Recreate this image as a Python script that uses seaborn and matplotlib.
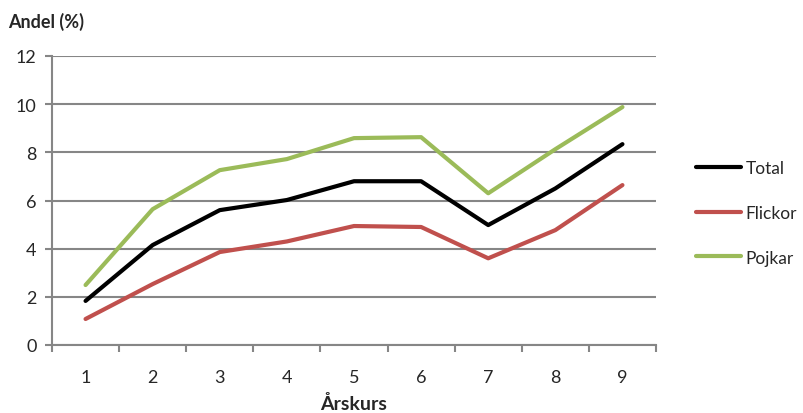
import matplotlib
matplotlib.use("Agg")
import matplotlib.pyplot as plt
import numpy as np
import pandas as pd
import seaborn as sns

# data
arskurs = [1, 2, 3, 4, 5, 6, 7, 8, 9]
total = [1.83, 4.15, 5.6, 6.02, 6.8, 6.8, 4.98, 6.5, 8.34]
flickor = [1.08, 2.53, 3.86, 4.3, 4.94, 4.9, 3.6, 4.77, 6.64]
pojkar = [2.49, 5.64, 7.26, 7.72, 8.59, 8.63, 6.3, 8.13, 9.88]
series = ["Total", "Flickor", "Pojkar"]
colors = ["#000000", "#C0504D", "#9BBB59"]
y_ticks = [0, 2, 4, 6, 8, 10, 12]

df = pd.DataFrame({
    "Årskurs": arskurs * 3,
    "Andel": total + flickor + pojkar,
    "Grupp": [s for s in series for _ in arskurs],
})

sns.set_theme(style="white")
plt.rcParams["font.family"] = ["Lato", "DejaVu Sans"]

fig = plt.figure(figsize=(8.04, 4.14), dpi=100)
ax = fig.add_axes([52 / 804, 68 / 414, 604 / 804, 289 / 414])

sns.lineplot(data=df, x="Årskurs", y="Andel", hue="Grupp", hue_order=series,
             palette=colors, linewidth=3.0, ax=ax, legend=True)

ax.set_xlim(0.5, 9.5)
ax.set_ylim(0, 12)
ax.set_yticks(y_ticks)
ax.set_xticks(arskurs)
ax.set_xticks(np.arange(0.5, 10.0, 1.0), minor=True)
ax.yaxis.grid(True, color="#868686", linewidth=1.5)
ax.set_axisbelow(True)
for side in ["top", "right"]:
    ax.spines[side].set_visible(False)
for side in ["left", "bottom"]:
    ax.spines[side].set_color("#868686")
    ax.spines[side].set_linewidth(1.5)
ax.tick_params(axis="y", which="major", left=True, length=5, width=1.5,
               color="#868686", labelsize=13, pad=6)
ax.tick_params(axis="x", which="major", bottom=False, length=0, labelsize=13, pad=17)
ax.tick_params(axis="x", which="minor", bottom=True, length=5, width=1.5,
               color="#868686")
ax.set_xlabel("Årskurs", fontsize=14, fontweight="bold", labelpad=6.5)
ax.set_ylabel("")

fig.text(8 / 804, 1 - 22 / 414, "Andel (%)", fontsize=13, fontweight="bold",
         va="center", ha="left")

handles, labels = ax.get_legend_handles_labels()
ax.legend(handles, labels, loc="center left", bbox_to_anchor=(1 + 40 / 604, 0.457),
          frameon=False, fontsize=12.5, handlelength=2.6, handletextpad=0.25,
          labelspacing=1.65, borderpad=0, borderaxespad=0)

fig.savefig("out.png", dpi=100)
